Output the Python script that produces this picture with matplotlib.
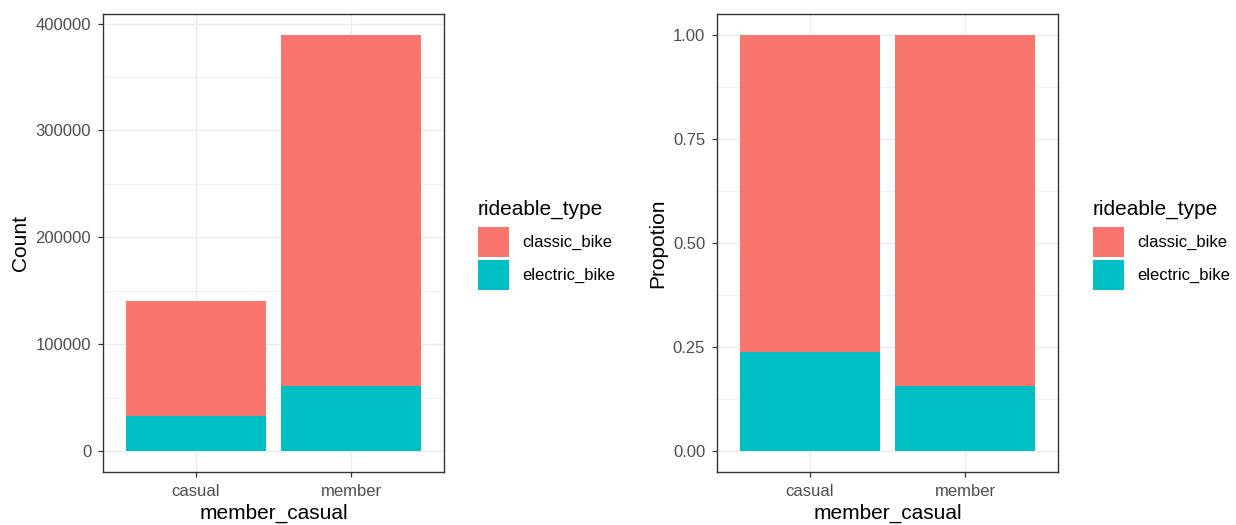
import numpy as np
import matplotlib
matplotlib.use("Agg")
import matplotlib.pyplot as plt
from matplotlib.patches import Patch
from matplotlib.ticker import MultipleLocator, FixedLocator

# === 데이터 ===
member_types = ["casual", "member"]
rideable_types = ["classic_bike", "electric_bike"]
electric_counts = np.array([33300, 61000])
classic_counts = np.array([107000, 328500])
totals = electric_counts + classic_counts
electric_prop = electric_counts / totals
classic_prop = classic_counts / totals

COLORS = {"classic_bike": "#F8766D", "electric_bike": "#00BFC4"}
GRID = "#EBEBEB"
TICK_C = "#4D4D4D"

plt.rcParams["font.family"] = ["Liberation Sans", "DejaVu Sans"]

fig = plt.figure(figsize=(12.36, 5.25), dpi=100)
ax1 = fig.add_axes([103 / 1236, 1 - 472 / 525, 341 / 1236, 458 / 525])
ax2 = fig.add_axes([717 / 1236, 1 - 472 / 525, 341 / 1236, 458 / 525])

x = np.arange(len(member_types))


def style_axis(ax, ylabel):
    ax.set_xlim(-0.6, 1.6)
    ax.set_xticks(x)
    ax.set_xticklabels(member_types)
    ax.set_axisbelow(True)
    ax.grid(axis="x", which="major", color=GRID, linewidth=1.0)
    ax.grid(axis="y", which="major", color=GRID, linewidth=1.0)
    ax.grid(axis="y", which="minor", color=GRID, linewidth=0.5)
    for s in ax.spines.values():
        s.set_color("#333333")
        s.set_linewidth(1.0)
    ax.tick_params(axis="both", which="major", length=3.5, width=0.9,
                   color="#333333", labelcolor=TICK_C, labelsize=12, pad=5)
    ax.tick_params(axis="both", which="minor", length=0)
    ax.set_xlabel("member_casual", fontsize=15, labelpad=3.5)
    ax.set_ylabel(ylabel, fontsize=15, labelpad=4)


def add_legend(ax, x_px):
    handles = [Patch(facecolor=COLORS[t], edgecolor="none", label=t) for t in rideable_types]
    leg = ax.legend(handles=handles, title="rideable_type", loc="upper left",
                    bbox_to_anchor=(x_px / 1236, 1 - 200 / 525),
                    bbox_transform=fig.transFigure, frameon=False,
                    fontsize=12, title_fontsize=15, handlelength=1.85,
                    handleheight=2.39, labelspacing=0.2, handletextpad=0.8,
                    borderpad=0, borderaxespad=0, alignment="left")
    # 제목과 키 사이 간격 조금 넓힘
    leg._legend_box.sep = 5.5
    return leg


# === 왼쪽: Count ===
ax1.bar(x, electric_counts, width=0.9, color=COLORS["electric_bike"])
ax1.bar(x, classic_counts, width=0.9, bottom=electric_counts, color=COLORS["classic_bike"])
ymax = totals.max()
ax1.set_ylim(-0.05 * ymax, 1.05 * ymax)
ax1.yaxis.set_major_locator(MultipleLocator(100000))
ax1.yaxis.set_minor_locator(MultipleLocator(50000))
ax1.yaxis.set_major_formatter(plt.FuncFormatter(lambda v, p: f"{int(v)}"))
style_axis(ax1, "Count")
add_legend(ax1, 478)

# === 오른쪽: Proportion ===
ax2.bar(x, electric_prop, width=0.9, color=COLORS["electric_bike"])
ax2.bar(x, classic_prop, width=0.9, bottom=electric_prop, color=COLORS["classic_bike"])
ax2.set_ylim(-0.05, 1.05)
ax2.yaxis.set_major_locator(FixedLocator([0, 0.25, 0.5, 0.75, 1.0]))
ax2.yaxis.set_minor_locator(FixedLocator([0.125, 0.375, 0.625, 0.875]))
ax2.yaxis.set_major_formatter(plt.FuncFormatter(lambda v, p: f"{v:.2f}"))
style_axis(ax2, "Propotion")
add_legend(ax2, 1093)

fig.savefig("out.png", dpi=100, facecolor="white")
